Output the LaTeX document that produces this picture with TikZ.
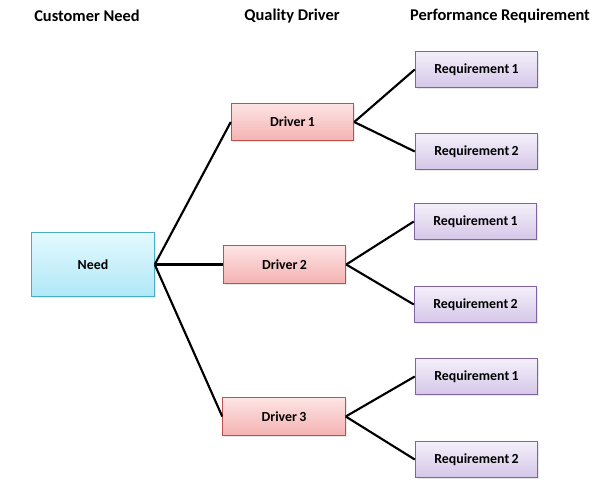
\documentclass[tikz,border=0pt]{standalone}
\usepackage{fontspec}
\setmainfont{Carlito}
\usepackage{tikz}
\usetikzlibrary{shadows}

\definecolor{needline}{RGB}{75,172,198}
\definecolor{needtop}{RGB}{228,249,254}
\definecolor{needbot}{RGB}{176,232,247}
\definecolor{drvline}{RGB}{192,80,77}
\definecolor{drvtop}{RGB}{253,228,228}
\definecolor{drvbot}{RGB}{244,178,178}
\definecolor{reqline}{RGB}{128,100,162}
\definecolor{reqtop}{RGB}{244,240,250}
\definecolor{reqbot}{RGB}{212,198,232}

\begin{document}
\begin{tikzpicture}[x=0.75pt,y=-0.75pt,
		box/.style={draw,line width=0.6pt,minimum width=92pt,minimum height=28pt,
			font=\bfseries\fontsize{10.4}{12}\selectfont,inner sep=0pt,
			drop shadow={opacity=0.18,shadow xshift=1.2pt,shadow yshift=-1.2pt}},
		needbox/.style={box,draw=needline,top color=needtop,bottom color=needbot,minimum height=48.5pt},
		drivebox/.style={box,draw=drvline,top color=drvtop,bottom color=drvbot},
		reqbox/.style={box,draw=reqline,top color=reqtop,bottom color=reqbot,minimum height=27.5pt},
		head/.style={font=\bfseries\fontsize{12.3}{14}\selectfont},
		link/.style={line width=1.6pt}]
		
		\useasboundingbox (0,0) rectangle (603,485);
		
		% --- column headings ---
		\node[head] (hneed) at (87,16) {Customer Need};
		\node[head] (hdrv) at (292,16) {Quality Driver};
		\node[head] (hreq) at (500,16) {Performance Requirement};
		
		% customer need
		\node[needbox] (need) at (93,264.5) {Need};
		
		% quality drivers
		\node[drivebox] (d1) at (292.5,122) {Driver\,1};
		\node[drivebox] (d2) at (284.5,264.5) {Driver\,2};
		\node[drivebox] (d3) at (284,416.5) {Driver\,3};
		
		% performance requirements (two per driver)
		\node[reqbox] (r11) at (476.5,69.5) {Requirement\,1};
		\node[reqbox] (r12) at (476.5,151.5) {Requirement\,2};
		\node[reqbox] (r21) at (475.5,221.5) {Requirement\,1};
		\node[reqbox] (r22) at (475.5,304.5) {Requirement\,2};
		\node[reqbox] (r31) at (476.5,376.5) {Requirement\,1};
		\node[reqbox] (r32) at (476.5,459.5) {Requirement\,2};
		
		% --- connectors ---
		\foreach \d in {d1,d2,d3}{
			\draw[link] (need.east) -- (\d.west);
		}
		\foreach \d in {1,2,3}{
			\draw[link] (d\d.east) -- (r\d1.west);
			\draw[link] (d\d.east) -- (r\d2.west);
		}
		
	\end{tikzpicture}
\end{document}
